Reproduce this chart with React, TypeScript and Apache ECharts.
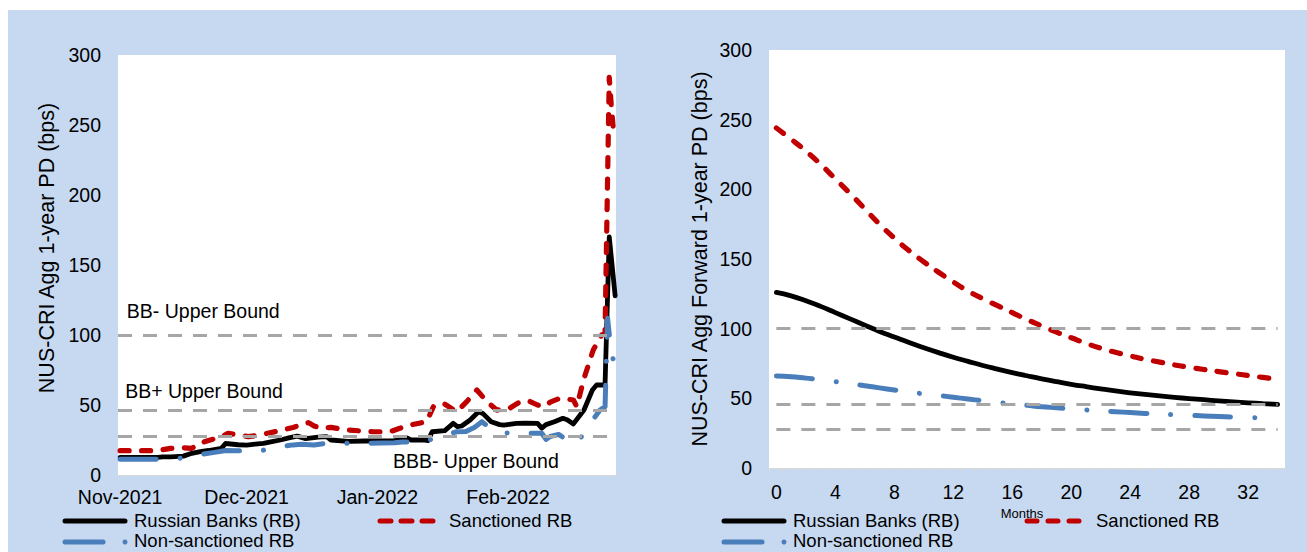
import React, { useEffect, useRef } from 'react';
import * as echarts from 'echarts';

// ---------- Left panel: daily aggregate PD (day 0 = 1 Nov 2021) ----------
const monthTickDays = [0, 30, 61, 92];
const monthTickLabels = ['Nov-2021', 'Dec-2021', 'Jan-2022', 'Feb-2022'];

const rbDays = [0, 3, 6, 9, 10, 12, 15, 17, 19, 21, 24, 25, 28, 30, 32, 34, 36, 38, 40, 42, 44, 47, 49, 50, 54, 58, 62, 65, 67, 68, 69, 72, 73, 74, 77, 79, 80, 81, 83, 85, 86, 88, 90, 91, 94, 96, 99, 100, 101, 103, 105, 106, 107.5, 110, 112, 113, 115, 116, 117.4];
const rbVals = [12.6, 12.6, 12.6, 12.6, 13, 13, 13.5, 15.5, 16.7, 17.5, 19, 22.5, 21.6, 21.4, 22, 22.6, 23.8, 25, 26.5, 27.8, 26, 27, 27.4, 25, 24, 24.3, 24.3, 24.5, 25, 26.5, 25, 25, 24.5, 30.9, 31.7, 36.9, 34.5, 35, 39.3, 45.2, 44, 38, 36, 35.7, 36.9, 37, 36.9, 33.5, 36, 38, 40.5, 39.5, 36.5, 46.4, 60.7, 64.3, 64.3, 170, 128];

const sDays = [0, 3, 6, 9, 10, 12, 15, 17, 18, 20, 22, 24, 25.6, 28, 30.4, 33, 35, 38.3, 41, 43, 44.7, 46, 47.8, 50, 53.8, 57, 60, 64, 66, 68.8, 72.7, 74.3, 76.7, 79.8, 82.2, 84.6, 87, 89.3, 92, 94.9, 97, 99, 100.4, 102, 104.3, 107.5, 108.3, 109.9, 112.2, 114.2, 115, 116, 116.5, 117, 117.4];
const sVals = [17.4, 17.4, 17.4, 17.4, 18, 19, 19.5, 19, 21, 23.8, 25.5, 27, 29.8, 28.5, 27.4, 28.5, 29.8, 32, 34, 35.7, 37.4, 35, 33.3, 34, 32.1, 31.5, 30.9, 30.9, 33, 35.7, 38.1, 48.8, 51.2, 45.2, 52.4, 60.7, 52.4, 46.4, 47, 52.4, 52.8, 50, 48.8, 52, 54.8, 53.6, 48.8, 67.9, 89.3, 100, 101, 284, 263, 246, 244];

const nDays = [0, 3, 6, 9, 10, 14.6, 17, 19.8, 22, 24, 25, 28, 31, 33.6, 36, 38.3, 41, 43, 46, 49, 52, 55, 58, 62, 65, 67, 70, 72.7, 74, 77, 79.8, 82, 84, 85.8, 88, 90, 92, 95.5, 98, 100, 101, 102, 104, 106, 108.3, 110, 111.5, 113.8, 115, 115.6, 116.2, 116.7, 117.4];
const nVals = [11.2, 11.2, 11.2, 11.2, 11.5, 12, 14, 15, 16, 17, 17.5, 17.3, 17.3, 17.5, 19, 20.2, 21.5, 21.9, 21.5, 22.6, 22.6, 22.6, 22.6, 22.8, 23, 23.5, 23.8, 23.8, 26, 28.6, 30.9, 31, 34, 38.1, 33, 30.2, 30, 29.8, 29.8, 29.8, 25.5, 27.5, 29, 25, 22.6, 30, 36.9, 46.4, 48.8, 112, 95, 85, 78];

// ---------- Right panel: forward 1-year PD by month ----------
const months = ['0', '1', '2', '3', '4', '5', '6', '7', '8', '9', '10', '11', '12', '13', '14', '15', '16', '17', '18', '19', '20', '21', '22', '23', '24', '25', '26', '27', '28', '29', '30', '31', '32', '33', '34'];
const rbFwd = [126, 123.5, 120, 116, 111.5, 107, 102.5, 98, 94, 90, 86.3, 82.8, 79.5, 76.5, 73.6, 71, 68.5, 66.2, 64, 62, 60.1, 58.4, 56.8, 55.3, 54, 52.8, 51.7, 50.7, 49.8, 49, 48.2, 47.5, 46.8, 46.2, 45.6];
const sFwd = [244, 236, 227.5, 218, 207.5, 197, 186, 175, 165, 156, 148, 140.5, 133.5, 127, 121.5, 116.5, 111.5, 106.5, 102, 97.5, 93.5, 89.5, 86, 83, 80.5, 78, 76, 74, 72.3, 70.7, 69.2, 67.8, 66.4, 65, 63.8];
const nFwd = [66, 65.5, 64.5, 63.5, 62, 60.5, 59, 57.5, 56, 54.5, 53.2, 52, 50.8, 49.5, 48.3, 47, 46, 45, 44, 43.2, 42.4, 41.7, 41, 40.4, 39.8, 39.2, 38.7, 38.2, 37.8, 37.4, 37, 36.6, 36.2, 35.9, 35.6];

// ---------- Rating bounds ----------
const refLevels = [100, 46, 28];
const annotations = [
  { text: 'BB- Upper Bound', day: 1.6, value: 117 },
  { text: 'BB+ Upper Bound', day: 1.2, value: 60 },
  { text: 'BBB- Upper Bound', day: 64.7, value: 10 },
];

const seriesNames = ['Russian Banks (RB)', 'Sanctioned RB', 'Non-sanctioned RB'];
const yTitles = ['NUS-CRI Agg 1-year PD (bps)', 'NUS-CRI Agg Forward 1-year PD (bps)'];

const FONT = 'Liberation Sans, Arial, sans-serif';
const FS = 19.5;
const LEG_FS = 18.5;
const BLACK = '#000000';
const RED = '#c00000';
const BLUE = '#4a7ebb';
const GREY = '#a6a6a6';

const blackStyle = { color: BLACK, width: 4.8, cap: 'round', join: 'round' };
const redStyle = { color: RED, width: 5.2, type: [9, 12.5], cap: 'round', join: 'round' };
const blueStyle = { color: BLUE, width: 5, type: [36, 24, 0.1, 24], cap: 'round', join: 'round' };

const pair = (xs: number[], ys: number[]) => xs.map((x, i) => [x, ys[i]]);

export default function App() {
  const ref = useRef<HTMLDivElement>(null);
  useEffect(() => {
    const chart = echarts.init(ref.current!, null, { renderer: 'svg' });
    const yAxisBase = {
      type: 'value',
      min: 0,
      max: 300,
      interval: 50,
      splitLine: { show: false },
      axisLine: { show: false },
      axisTick: { show: false },
      axisLabel: { fontSize: FS, color: '#000', fontFamily: FONT, margin: 17 },
    };
    const option: any = {
      animation: false,
      backgroundColor: '#c6d9f0',
      textStyle: { fontFamily: FONT },
      grid: [
        { left: 110, top: 45, width: 498, height: 420, show: true, backgroundColor: '#ffffff', borderWidth: 0 },
        { left: 761, top: 40, width: 516, height: 418, show: true, backgroundColor: '#ffffff', borderWidth: 0 },
      ],
      xAxis: [
        {
          type: 'value',
          gridIndex: 0,
          min: -0.5,
          max: 117.6,
          splitLine: { show: false },
          axisTick: { show: false },
          axisLine: { show: true, lineStyle: { color: '#d9d9d9', width: 1 } },
          axisLabel: {
            customValues: monthTickDays,
            formatter: (v: number) => {
              const i = monthTickDays.indexOf(Math.round(v));
              return i >= 0 ? monthTickLabels[i] : '';
            },
            fontSize: FS,
            color: '#000',
            fontFamily: FONT,
            margin: 12,
          },
        },
        {
          type: 'category',
          gridIndex: 1,
          data: months,
          boundaryGap: true,
          axisLine: { show: true, lineStyle: { color: '#d9d9d9', width: 1 } },
          axisTick: { show: true, interval: 0, length: 5, lineStyle: { color: '#d9d9d9' } },
          axisLabel: { interval: 3, fontSize: FS, color: '#000', fontFamily: FONT, margin: 14 },
        },
      ],
      yAxis: [
        { ...yAxisBase, gridIndex: 0 },
        { ...yAxisBase, gridIndex: 1 },
      ],
      series: [
        { type: 'line', name: seriesNames[0], xAxisIndex: 0, yAxisIndex: 0, data: pair(rbDays, rbVals), symbol: 'none', lineStyle: blackStyle, itemStyle: { color: BLACK } },
        { type: 'line', name: seriesNames[1], xAxisIndex: 0, yAxisIndex: 0, data: pair(sDays, sVals), symbol: 'none', lineStyle: redStyle, itemStyle: { color: RED } },
        {
          type: 'line', name: seriesNames[2], xAxisIndex: 0, yAxisIndex: 0, data: pair(nDays, nVals), symbol: 'none', lineStyle: blueStyle, itemStyle: { color: BLUE },
          markLine: {
            silent: true, symbol: ['none', 'none'], label: { show: false },
            lineStyle: { color: GREY, width: 3, type: [14, 11] },
            data: refLevels.map((v) => ({ yAxis: v })),
          },
        },
        { type: 'line', name: seriesNames[0], xAxisIndex: 1, yAxisIndex: 1, data: rbFwd, symbol: 'none', smooth: true, lineStyle: blackStyle, itemStyle: { color: BLACK } },
        { type: 'line', name: seriesNames[1], xAxisIndex: 1, yAxisIndex: 1, data: sFwd, symbol: 'none', smooth: true, lineStyle: redStyle, itemStyle: { color: RED } },
        {
          type: 'line', name: seriesNames[2], xAxisIndex: 1, yAxisIndex: 1, data: nFwd, symbol: 'none', smooth: true, lineStyle: blueStyle, itemStyle: { color: BLUE },
          markLine: {
            silent: true, symbol: ['none', 'none'], label: { show: false },
            lineStyle: { color: GREY, width: 3, type: [14, 11] },
            data: refLevels.map((v) => [{ coord: [0, v] }, { coord: [months.length - 1, v] }]),
          },
        },
      ],
    };
    chart.setOption(option);

    const txt = (x: number, y: number, text: string, extra: any = {}) => ({
      type: 'text', x, y, silent: true,
      style: { text, fontSize: FS, fontFamily: FONT, fill: '#000', align: 'left', verticalAlign: 'middle', ...extra },
    });
    const line = (x1: number, x2: number, y: number, stroke: string, dash?: number[]) => ({
      type: 'line', silent: true,
      shape: { x1, y1: y, x2, y2: y },
      style: { stroke, lineWidth: 5, lineDash: dash, lineCap: 'round' },
    });
    const dot = (cx: number, cy: number) => ({ type: 'circle', silent: true, shape: { cx, cy, r: 2.5 }, style: { fill: BLUE } });

    const ROW1 = 510;
    const ROW2 = 530;
    const legendBlock = (x0: number, redX: number, redTextX: number, redDash: number[]) => [
      line(x0 + 2, x0 + 62, ROW1 + 1, BLACK),
      txt(x0 + 71, ROW1, seriesNames[0], { fontSize: LEG_FS }),
      line(redX, redX + 58, ROW1 + 1, RED, redDash),
      txt(redTextX, ROW1, seriesNames[1], { fontSize: LEG_FS }),
      line(x0 + 2, x0 + 40, ROW2 + 2, BLUE),
      dot(x0 + 62, ROW2 + 2),
      txt(x0 + 71, ROW2, seriesNames[2], { fontSize: LEG_FS }),
    ];

    const ann = annotations.map((a) => {
      const p = chart.convertToPixel({ gridIndex: 0 }, [a.day, a.value]) as number[];
      return txt(p[0], p[1], a.text);
    });

    chart.setOption({
      graphic: [
        ...ann,
        { ...txt(39, 238, yTitles[0], { align: 'center', fontSize: 21.5 }), rotation: Math.PI / 2 },
        { ...txt(692, 249, yTitles[1], { align: 'center', fontSize: 21.5 }), rotation: Math.PI / 2 },
        txt(1014, 503, 'Months', { align: 'center', fontSize: 13 }),
        ...legendBlock(55, 372, 441, [11, 10]),
        ...legendBlock(714, 1019, 1088, [10, 11]),
      ],
    });

    return () => chart.dispose();
  }, []);
  return <div ref={ref} style={{ position: 'fixed', left: 8, top: 10, width: 1299, height: 542 }} />;
}
